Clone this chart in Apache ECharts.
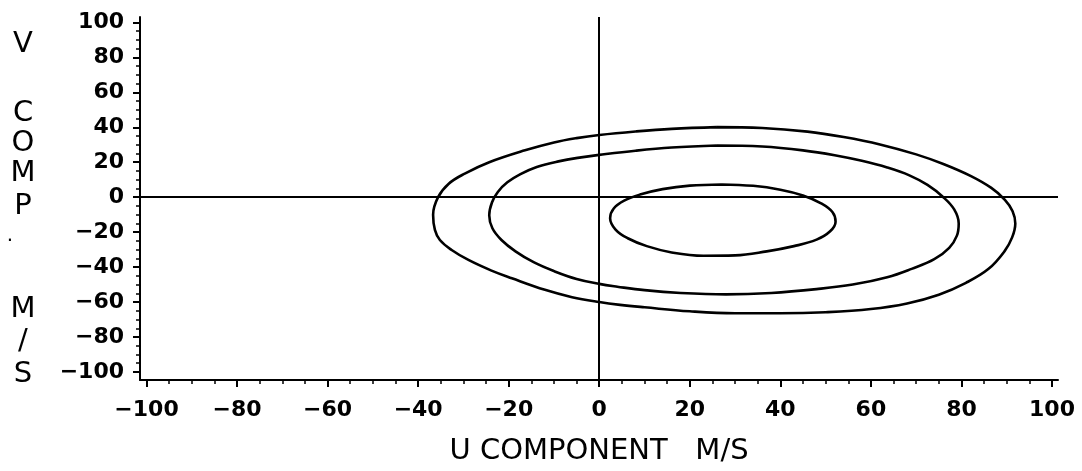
<!DOCTYPE html>
<html>
<head>
<meta charset="utf-8">
<script src="https://cdn.jsdelivr.net/npm/echarts@6/dist/echarts.min.js"></script>
<style>
  html, body { margin: 0; padding: 0; background: #fff; }
  #chart { width: 1082px; height: 471px; }
</style>
</head>
<body>
<div id="chart"></div>
<script>
// ---- data ----
const X_TICKS = [-100, -80, -60, -40, -20, 0, 20, 40, 60, 80, 100];
const Y_TICKS = [-100, -80, -60, -40, -20, 0, 20, 40, 60, 80, 100];
const X_MINOR = [-100, -95, -90, -85, -80, -75, -70, -65, -60, -55, -50, -45, -40, -35, -30, -25, -20, -15, -10, -5,
  0, 5, 10, 15, 20, 25, 30, 35, 40, 45, 50, 55, 60, 65, 70, 75, 80, 85, 90, 95, 100];
const Y_MINOR = [-100, -95, -90, -85, -80, -75, -70, -65, -60, -55, -50, -45, -40, -35, -30, -25, -20, -15, -10, -5,
  0, 5, 10, 15, 20, 25, 30, 35, 40, 45, 50, 55, 60, 65, 70, 75, 80, 85, 90, 95, 100];

const X_TITLE = 'U COMPONENT   M/S';
const Y_TITLE = ['V', 'C', 'O', 'M', 'P', '.', 'M', '/', 'S'];

// Ellipse outlines (U, V) in m/s, clockwise from the top
const OUTER = [[26, 40.1], [36, 39.6], [46, 37.5], [54, 34.4], [62, 30.2], [70, 24.5], [76, 19.0], [82, 12.2],
  [86.6, 5.3], [89.6, -1.5], [91.3, -8], [91.9, -15], [91.2, -23], [89.5, -31], [86, -41], [81, -49], [75, -55.8],
  [68, -60.8], [60, -64], [50, -65.8], [40, -66.4], [30, -66.4], [20, -65.3], [10, -63.0], [4.6, -61.6], [0, -60],
  [-6, -57.2], [-12, -53.0], [-19.3, -46.4], [-23.8, -42.0], [-28.9, -35.9], [-32.6, -30.2], [-35.2, -24.5],
  [-36.3, -18.7], [-36.7, -10], [-35.6, 0], [-33.3, 7.6], [-29.7, 13.5], [-24.3, 20.0], [-16.4, 26.8],
  [-10, 31.3], [-5, 33.8], [0, 35.6], [8, 37.6], [16, 39.1], [26, 40.1]];
const MIDDLE = [[26, 29.6], [36, 29.0], [45, 26.8], [52, 24.0], [58, 20.8], [63.6, 17.0], [68.5, 12.5], [72.5, 7.0],
  [76, 0], [78.4, -7], [79.4, -15], [79, -22], [77.3, -29], [74, -35.5], [69, -41], [63.6, -45.8], [56, -50.0],
  [48, -52.6], [38, -54.8], [28, -55.6], [18, -54.8], [10, -53.2], [4, -51.2], [0, -49.6], [-5, -46.8],
  [-10, -42.3], [-14.5, -37.2], [-18.5, -31], [-21.6, -24.5], [-23.6, -17.8], [-24.3, -10.3], [-23.7, -3],
  [-22.4, 3], [-20.3, 8.5], [-17.4, 13.2], [-13.8, 17.3], [-9, 20.5], [-4, 22.8], [0, 24.2], [8, 26.6],
  [16, 28.4], [26, 29.6]];
const INNER = [[27, 7.3], [34, 6.5], [40, 4.3], [45, 1.0], [49, -3.5], [51.5, -8.5], [52.2, -14], [51, -19.5],
  [48, -24.3], [43, -28.0], [37, -31.0], [30, -33.3], [23, -33.5], [16, -31.6], [10.5, -28], [6.3, -23.5],
  [3.6, -18.5], [2.4, -12], [3.2, -6.5], [5.5, -2], [9, 1.5], [14, 4.6], [20, 6.6], [27, 7.3]];

// ---- chart ----
const FONT = 'DejaVu Sans';
const fmt = v => String(v).replace('-', '\u2212');
const chart = echarts.init(document.getElementById('chart'), null, { renderer: 'canvas' });

const axisCommon = {
  type: 'value',
  axisLine: { show: true, onZero: false, lineStyle: { color: '#000', width: 2 } },
  splitLine: { show: false },
  minorTick: { show: false }
};

const XMIN = -101.44, XMAX = 101.33, YMIN = -104.6, YMAX = 103.1;

function ellipse(name, data) {
  return {
    name, type: 'line', data, smooth: 0.4, smoothConstraint: false, showSymbol: false, symbol: 'none',
    lineStyle: { color: '#000', width: 2.6 }, silent: true, animation: false
  };
}

const letter = (t, x, y, size) => ({
  type: 'text', x, y,
  style: { text: t, font: size + 'px "DejaVu Sans"', fill: '#000', align: 'center', verticalAlign: 'middle' }
});

chart.setOption({
  backgroundColor: '#fff',
  animation: false,
  grid: { left: 140, right: 24, top: 17, bottom: 91, containLabel: false },
  xAxis: [
    Object.assign({}, axisCommon, {
      position: 'bottom', min: XMIN, max: XMAX,
      axisTick: { show: true, inside: false, length: 7, customValues: X_TICKS, lineStyle: { color: '#000', width: 2 } },
      axisLabel: { show: true, customValues: X_TICKS, formatter: fmt, margin: 19, color: '#000',
        fontFamily: FONT, fontSize: 22, fontWeight: 'bold' },
      name: X_TITLE, nameLocation: 'middle', nameGap: 57,
      nameTextStyle: { color: '#000', fontFamily: FONT, fontSize: 29 }
    }),
    Object.assign({}, axisCommon, {
      position: 'bottom', min: XMIN, max: XMAX,
      axisLine: { show: false, onZero: false },
      axisTick: { show: true, inside: false, length: 4, customValues: X_MINOR, lineStyle: { color: '#000', width: 1.5 } },
      axisLabel: { show: false }
    })
  ],
  yAxis: [
    Object.assign({}, axisCommon, {
      position: 'left', min: YMIN, max: YMAX,
      axisTick: { show: true, inside: false, length: 7, customValues: Y_TICKS, lineStyle: { color: '#000', width: 2 } },
      axisLabel: { show: true, customValues: Y_TICKS, formatter: fmt, margin: 16, color: '#000',
        fontFamily: FONT, fontSize: 22, fontWeight: 'bold' }
    }),
    Object.assign({}, axisCommon, {
      position: 'left', min: YMIN, max: YMAX,
      axisLine: { show: false, onZero: false },
      axisTick: { show: true, inside: false, length: 4, customValues: Y_MINOR, lineStyle: { color: '#000', width: 1.5 } },
      axisLabel: { show: false }
    })
  ],
  series: [
    {
      type: 'line', data: [], silent: true,
      markLine: {
        silent: true, symbol: 'none', animation: false,
        label: { show: false },
        lineStyle: { color: '#000', width: 2, type: 'solid' },
        data: [{ xAxis: 0 }, { yAxis: 0 }]
      }
    },
    ellipse('outer', OUTER),
    ellipse('middle', MIDDLE),
    ellipse('inner', INNER)
  ],
  graphic: [
    letter(Y_TITLE[0], 23, 44, 29),
    letter(Y_TITLE[1], 23, 113, 29),
    letter(Y_TITLE[2], 23, 143, 29),
    letter(Y_TITLE[3], 23, 173, 29),
    letter(Y_TITLE[4], 23, 206, 29),
    letter(Y_TITLE[5], 10, 236, 20),
    letter(Y_TITLE[6], 23, 309, 29),
    letter(Y_TITLE[7], 23, 341, 29),
    letter(Y_TITLE[8], 23, 374, 29)
  ]
});
</script>
</body>
</html>
